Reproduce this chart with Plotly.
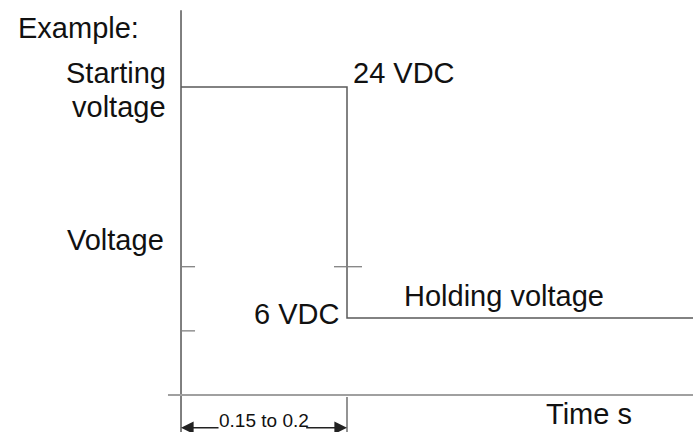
import plotly.graph_objects as go

# ---- data (schematic values) ----
signal_time = [0.0, 0.2, 0.2, 0.62]          # s
signal_volts = [24, 24, 6, 6]                # VDC
starting_voltage = 24
holding_voltage = 6
switch_time = 0.2
left_tick_volts = [10, 5]
step_tick_volts = 10
dim_label = "0.15 to 0.2"

W, H = 693, 432
X_RANGE = [-0.2181, 0.6169]
Y_RANGE = [-2.884, 30.79]

def px(x):
    return x / W

def py(y):
    return 1 - y / H

fig = go.Figure()

dark = "#3a3a3a"
mid = "#5a5a5a"
light = "#a0a0a0"

# y axis line (extends below x axis)
fig.add_trace(go.Scatter(x=[0, 0], y=[30.0, Y_RANGE[0]], mode="lines",
                         line=dict(color=dark, width=1.3), hoverinfo="skip"))
# x axis line
fig.add_trace(go.Scatter(x=[-0.0157, X_RANGE[1]], y=[0, 0], mode="lines",
                         line=dict(color=light, width=2), hoverinfo="skip"))
# signal
fig.add_trace(go.Scatter(x=signal_time, y=signal_volts, mode="lines",
                         line=dict(color=mid, width=1.5), hoverinfo="skip"))
# left axis ticks
for v in left_tick_volts:
    fig.add_trace(go.Scatter(x=[0, 0.0169], y=[v, v], mode="lines",
                             line=dict(color="#808080", width=1.3), hoverinfo="skip"))
# tick on step line
fig.add_trace(go.Scatter(x=[switch_time - 0.0157, switch_time + 0.0181],
                         y=[step_tick_volts, step_tick_volts], mode="lines",
                         line=dict(color="#808080", width=1.3), hoverinfo="skip"))
# extension line for dimension
fig.add_trace(go.Scatter(x=[switch_time, switch_time], y=[-0.16, Y_RANGE[0]], mode="lines",
                         line=dict(color=mid, width=1.3), hoverinfo="skip"))

# dimension arrows
dim_v = -2.55
fig.add_annotation(x=0, y=dim_v, ax=0.047, ay=dim_v, xref="x", yref="y",
                   axref="x", ayref="y", text="", showarrow=True,
                   arrowhead=2, arrowsize=1.8, arrowwidth=1.4, arrowcolor="#222")
fig.add_annotation(x=switch_time, y=dim_v, ax=0.149, ay=dim_v, xref="x", yref="y",
                   axref="x", ayref="y", text="", showarrow=True,
                   arrowhead=2, arrowsize=1.8, arrowwidth=1.4, arrowcolor="#222")

font = dict(family="Liberation Sans, Arial, sans-serif", size=29, color="#111")

def label(text, x, y, xanchor, size=None):
    f = dict(font)
    if size:
        f["size"] = size
    fig.add_annotation(text=text, x=px(x), y=py(y), xref="paper", yref="paper",
                       xanchor=xanchor, yanchor="middle", showarrow=False,
                       font=f, align="right" if xanchor == "right" else "left")

label("Example:", 16, 27.5, "left")
label("Starting", 168, 72.5, "right")
label("voltage", 168, 107, "right")
label("Voltage", 65, 240.5, "left")
label(f"{starting_voltage} VDC", 351, 73.5, "left")
label(f"{holding_voltage} VDC", 341, 314, "right")
label("Holding voltage", 402, 295.5, "left")
label("Time s", 544, 414, "left")
label(dim_label, 264, 420, "center", size=19)

fig.update_layout(
    width=W, height=H, margin=dict(l=0, r=0, t=0, b=0),
    paper_bgcolor="white", plot_bgcolor="white", showlegend=False,
    xaxis=dict(range=X_RANGE, visible=False, fixedrange=True),
    yaxis=dict(range=Y_RANGE, visible=False, fixedrange=True),
)

fig.write_html("out.html", config={"displayModeBar": False},
               post_script="document.body.style.margin='0';")
